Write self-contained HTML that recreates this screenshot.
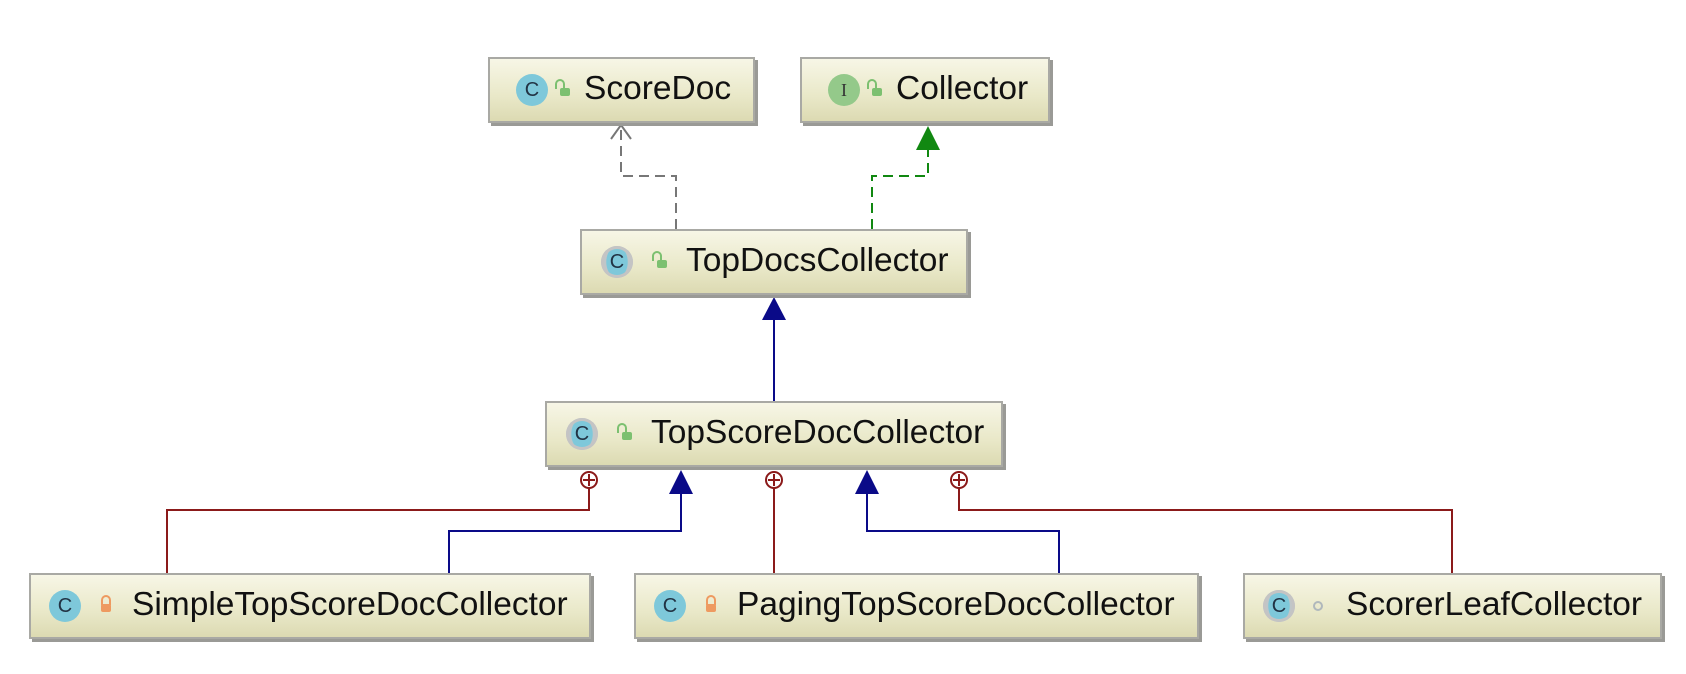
<!DOCTYPE html>
<html><head><meta charset="utf-8"><style>
body{margin:0;width:1686px;height:674px;background:#fff;position:relative;overflow:hidden;font-family:"Liberation Sans",sans-serif}
.b{position:absolute;box-sizing:border-box;border:2px solid #a9a9a4;background:linear-gradient(#f7f6e6,#e9e8c8 60%,#dcdab2);box-shadow:3px 3px 0 #9a9a96}
.t{position:absolute;top:50%;transform:translateY(-52%);font-size:33.5px;color:#111;white-space:nowrap}
.ic{position:absolute;top:50%;width:32px;height:32px;margin-top:-16px;border-radius:50%;background:#7ec8da;color:#234;font-size:20px;text-align:center;line-height:32px}
.ab{box-shadow:0 0 0 3px #c4c4c4 inset;background:radial-gradient(ellipse 11px 16px at center,#7ec8da 95%,#c0c6c8 100%)}
.i{background:#94c98a;font-family:"Liberation Serif",serif;font-size:18px;color:#333}
.lk{position:absolute;top:50%;width:10px;height:8px;margin-top:-2px;background:#7cc070;border-radius:2px}
.lk:before{content:"";position:absolute;left:-5px;top:-9px;width:6px;height:8px;border:2px solid #7cc070;border-bottom:none;border-radius:5px 5px 0 0}
.lp{background:#ee9a60}
.lp:before{left:0;border-color:#ee9a60}
.dot{position:absolute;top:50%;width:6px;height:6px;margin-top:-5px;border:2px solid #b0b8bc;border-radius:50%}
</style></head><body>
<svg width="1686" height="674" style="position:absolute;left:0;top:0">
<g fill="none" stroke-width="2">
<path d="M676 229V176H621V126" stroke="#777" stroke-dasharray="10,6"/>
<path d="M611 139L621 125L631 139" stroke="#777"/>
<path d="M872 229V176H928V148" stroke="#118811" stroke-dasharray="10,6"/>
<path d="M774 401V318" stroke="#0a0a88"/>
<path d="M167 573V510H589V488" stroke="#8b1a1a"/>
<path d="M774 573V488" stroke="#8b1a1a"/>
<path d="M1452 573V510H959V488" stroke="#8b1a1a"/>
<path d="M449 573V531H681V492" stroke="#0a0a88"/>
<path d="M1059 573V531H867V492" stroke="#0a0a88"/>
<circle cx="589" cy="480" r="8" stroke="#8b1a1a" fill="#fff"/>
<circle cx="774" cy="480" r="8" stroke="#8b1a1a" fill="#fff"/>
<circle cx="959" cy="480" r="8" stroke="#8b1a1a" fill="#fff"/>
<path d="M583 480h12M589 474v12M768 480h12M774 474v12M953 480h12M959 474v12" stroke="#8b1a1a"/>
</g>
<polygon points="928,126 916,150 940,150" fill="#118811"/>
<polygon points="774,297 762,320 786,320" fill="#0a0a88"/>
<polygon points="681,470 669,494 693,494" fill="#0a0a88"/>
<polygon points="867,470 855,494 879,494" fill="#0a0a88"/>
</svg>

<div class="b" style="left:488px;top:57px;width:267px;height:66px"><div class="ic" style="left:26px">C</div><div class="lk" style="left:70px"></div><div class="t" style="left:94px">ScoreDoc</div></div>
<div class="b" style="left:800px;top:57px;width:250px;height:66px"><div class="ic i" style="left:26px">I</div><div class="lk" style="left:70px"></div><div class="t" style="left:94px">Collector</div></div>
<div class="b" style="left:580px;top:229px;width:388px;height:66px"><div class="ic ab" style="left:19px">C</div><div class="lk" style="left:75px"></div><div class="t" style="left:104px">TopDocsCollector</div></div>
<div class="b" style="left:545px;top:401px;width:458px;height:66px"><div class="ic ab" style="left:19px">C</div><div class="lk" style="left:75px"></div><div class="t" style="left:104px">TopScoreDocCollector</div></div>
<div class="b" style="left:29px;top:573px;width:562px;height:66px"><div class="ic" style="left:18px">C</div><div class="lk lp" style="left:70px"></div><div class="t" style="left:101px">SimpleTopScoreDocCollector</div></div>
<div class="b" style="left:634px;top:573px;width:565px;height:66px"><div class="ic" style="left:18px">C</div><div class="lk lp" style="left:70px"></div><div class="t" style="left:101px">PagingTopScoreDocCollector</div></div>
<div class="b" style="left:1243px;top:573px;width:419px;height:66px"><div class="ic ab" style="left:18px">C</div><div class="dot" style="left:68px"></div><div class="t" style="left:101px">ScorerLeafCollector</div></div>
</body></html>
